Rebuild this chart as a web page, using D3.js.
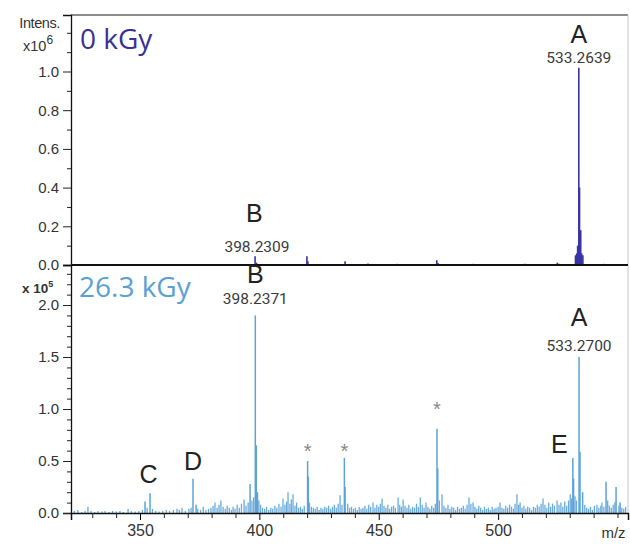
<!DOCTYPE html>
<html>
<head>
<meta charset="utf-8">
<script src="https://cdn.jsdelivr.net/npm/d3@7"></script>
<style>
  body { margin: 0; background: #fff; }
  svg { display: block; }
  .tick text { font-family: "Liberation Sans", Arial, sans-serif; fill: #333; }
</style>
</head>
<body>
<div id="chart"></div>
<script>
// ---- data ----
// top panel, 0 kGy: [m/z, intensity x10^6]
const topPeaks = [
  [328.2, 0.003], [398.2, 0.045], [398.8, 0.012], [419.9, 0.045], [420.3, 0.02],
  [435.9, 0.02], [445.5, 0.008], [457.8, 0.006], [474.3, 0.025], [474.8, 0.01],
  [489.6, 0.006], [511.2, 0.006], [524.8, 0.012], [525.5, 0.006],
  [532.4, 0.05], [532.9, 0.06], [533.3, 0.1], [533.8, 1.02], [534.1, 0.40],
  [534.6, 0.18], [535.0, 0.06], [535.5, 0.05], [544.2, 0.006], [549.8, 0.005]
];

// bottom panel, 26.3 kGy: [m/z, intensity x10^5]
const bottomMajor = [
  [352.1, 0.11], [354.2, 0.19], [372.2, 0.33], [373.5, 0.08],
  [396.1, 0.28], [398.3, 1.90], [398.7, 0.65], [399.2, 0.20],
  [420.2, 0.50], [420.5, 0.35], [435.6, 0.53], [435.9, 0.25],
  [474.4, 0.81], [474.7, 0.43], [531.3, 0.53], [531.6, 0.33],
  [533.9, 1.50], [534.3, 0.59], [535.4, 0.20], [545.2, 0.30],
  [549.4, 0.25], [551.1, 0.10]
];

const bottomNoise = [
  [322.5, .02], [324.0, .03], [325.6, .01], [327.0, .02], [328.2, .06], [329.5, .02],
  [331.0, .01], [332.4, .02], [334.0, .015], [335.3, .02], [337.0, .01], [338.5, .02],
  [340.1, .015], [341.6, .02], [343.0, .01], [345.0, .04], [346.4, .02], [348.0, .015],
  [349.5, .02], [351.0, .03], [353.0, .05], [355.2, .04], [356.6, .02], [358.0, .015],
  [359.5, .02], [361.0, .03], [362.4, .02], [364.0, .03], [365.5, .04], [366.5, .03],
  [367.6, .05], [369.0, .02], [370.5, .04], [371.4, .05], [374.2, .04], [375.4, .03],
  [376.5, .06], [377.6, .03], [378.7, .04], [379.7, .05], [380.6, .07], [381.4, .10],
  [382.3, .05], [383.1, .08], [383.9, .12], [384.8, .06], [385.7, .04], [386.5, .07],
  [387.4, .05], [388.3, .03], [389.0, .06], [389.8, .04], [390.7, .08], [391.6, .05],
  [392.5, .09], [393.6, .13], [394.4, .07], [395.3, .10], [396.9, .12], [397.6, .15],
  [399.8, .12], [400.5, .08], [401.3, .05], [402.2, .04], [403.0, .06], [403.9, .03],
  [404.8, .05], [405.6, .04], [406.5, .07], [407.3, .05], [408.2, .09], [409.1, .06],
  [409.9, .14], [410.7, .08], [411.4, .11], [412.0, .20], [412.8, .09], [413.4, .13],
  [414.1, .18], [414.9, .07], [415.6, .10], [416.4, .05], [417.2, .06], [418.0, .04],
  [418.8, .07], [421.0, .10], [421.8, .06], [422.6, .05], [423.4, .04], [424.2, .06],
  [425.0, .03], [425.8, .05], [426.6, .04], [427.4, .06], [428.2, .05], [429.0, .07],
  [429.8, .04], [430.6, .06], [431.4, .08], [432.2, .05], [433.0, .09], [433.8, .17],
  [434.6, .08], [437.0, .09], [437.8, .05], [438.6, .06], [439.4, .04], [440.2, .05],
  [441.0, .03], [441.8, .06], [442.6, .04], [443.4, .05], [444.2, .07], [445.0, .04],
  [445.8, .08], [446.6, .06], [447.6, .10], [448.4, .05], [449.2, .08], [450.0, .06],
  [450.7, .09], [451.4, .14], [452.2, .07], [453.0, .05], [453.8, .08], [454.6, .04],
  [455.4, .06], [456.2, .07], [457.0, .05], [458.1, .15], [458.8, .08], [459.5, .06],
  [460.2, .13], [461.0, .07], [461.8, .05], [462.6, .08], [463.4, .04], [464.2, .06],
  [465.0, .05], [465.8, .09], [466.6, .06], [467.4, .15], [468.2, .08], [469.0, .05],
  [469.8, .10], [470.6, .06], [471.4, .04], [472.2, .07], [473.0, .05], [473.7, .09],
  [475.4, .12], [476.5, .18], [477.3, .07], [478.1, .05], [479.0, .08], [479.8, .04],
  [480.6, .06], [481.4, .05], [482.2, .03], [483.0, .06], [483.8, .04], [484.6, .05],
  [485.4, .07], [486.2, .04], [487.0, .08], [487.8, .15], [488.6, .09], [489.5, .10],
  [490.3, .06], [491.1, .04], [491.9, .07], [492.7, .05], [493.5, .03], [494.3, .06],
  [495.1, .04], [495.9, .05], [496.7, .03], [497.5, .06], [498.3, .04], [499.1, .05],
  [500.0, .06], [500.8, .10], [501.6, .05], [502.4, .04], [503.2, .07], [504.0, .05],
  [504.8, .08], [505.6, .06], [506.4, .04], [507.1, .09], [507.9, .18], [508.6, .08],
  [509.2, .10], [510.0, .05], [510.8, .07], [511.6, .04], [512.4, .06], [513.2, .05],
  [514.0, .03], [514.8, .06], [515.6, .05], [516.4, .08], [517.2, .06], [518.0, .09],
  [518.8, .14], [519.6, .08], [520.4, .05], [521.2, .10], [522.0, .06], [522.8, .09],
  [523.6, .07], [524.7, .12], [525.5, .08], [526.3, .10], [527.1, .06], [527.9, .11],
  [528.7, .07], [529.5, .12], [530.2, .18], [530.8, .14], [532.2, .16], [532.8, .12],
  [536.3, .08], [537.1, .05], [537.9, .04], [538.7, .06], [539.5, .03], [540.3, .07],
  [541.4, .08], [542.2, .05], [543.0, .07], [543.5, .10], [544.3, .06], [545.9, .12],
  [546.6, .07], [547.4, .05], [548.2, .08], [548.9, .10], [550.6, .07], [551.8, .05],
  [552.6, .04], [553.4, .06]
];

const xTicks = [350, 400, 450, 500];
const yTicksTop = [0, 0.2, 0.4, 0.6, 0.8, 1.0];
const yTicksBottom = [0, 0.5, 1.0, 1.5, 2.0];

// ---- layout ----
const W = 630, H = 544;
const left = 71, right = 628;
const topTop = 15, topBase = 265, botBase = 513;

const svg = d3.select("#chart").append("svg").attr("width", W).attr("height", H);

const x = d3.scaleLinear().domain([321.1, 554.4]).range([left, right]);
const yTop = d3.scaleLinear().domain([0, 1.292]).range([topBase, topTop]);
const yBot = d3.scaleLinear().domain([0, 2.385]).range([botBase, topBase]);

// minor ticks
const minorTop = d3.range(1, 13).map((d) => d / 10).filter((d) => Math.round(d * 10) % 2 !== 0 || d > 1.05);
const minorBot = d3.range(1, 24).map((d) => d / 10).filter((d) => Math.round(d * 10) % 5 !== 0);
const minorX = d3.range(330, 555, 10).filter((d) => d % 50 !== 0);

// frame lines
svg.append("line").attr("x1", left).attr("x2", right).attr("y1", topTop).attr("y2", topTop)
  .attr("stroke", "#666").attr("stroke-width", 1.5);
svg.append("line").attr("x1", right).attr("x2", right).attr("y1", topTop).attr("y2", botBase)
  .attr("stroke", "#c8c8c8").attr("stroke-width", 1);

// spectra sticks
function sticks(data, y, color, w) {
  svg.append("g").selectAll("line").data(data).enter().append("line")
    .attr("x1", (d) => x(d[0])).attr("x2", (d) => x(d[0]))
    .attr("y1", y(0)).attr("y2", (d) => y(d[1]))
    .attr("stroke", color).attr("stroke-width", w);
}
sticks(bottomNoise, yBot, "#6aabdc", 1.3);
sticks(bottomMajor, yBot, "#5ba3d8", 1.5);
sticks(topPeaks, yTop, "#3a34a3", 1.6);

// y axes
function yAxis(scale, ticks, minor, fmt) {
  svg.append("g").attr("transform", `translate(${left},0)`)
    .call(d3.axisLeft(scale).tickValues(minor).tickSize(4).tickFormat(""))
    .call((g) => g.select(".domain").remove())
    .selectAll("line").attr("stroke", "#222");
  const g = svg.append("g").attr("transform", `translate(${left},0)`)
    .call(d3.axisLeft(scale).tickValues(ticks).tickSize(8).tickPadding(4).tickFormat(fmt));
  g.select(".domain").attr("stroke", "#111").attr("stroke-width", 1.3);
  g.selectAll(".tick line").attr("stroke", "#222");
  g.selectAll(".tick text").attr("font-size", "15px");
}
yAxis(yTop, yTicksTop, minorTop, d3.format(".1f"));
yAxis(yBot, yTicksBottom, minorBot, d3.format(".1f"));

// x axes
svg.append("line").attr("x1", left).attr("x2", right).attr("y1", topBase).attr("y2", topBase)
  .attr("stroke", "#111").attr("stroke-width", 2);

const xg = svg.append("g").attr("transform", `translate(0,${botBase})`)
  .call(d3.axisBottom(x).tickValues(xTicks).tickSize(7).tickPadding(5).tickFormat(d3.format("d")));
xg.select(".domain").attr("stroke", "#111").attr("stroke-width", 1.5);
xg.selectAll(".tick text").attr("font-size", "16px");
svg.append("g").attr("transform", `translate(0,${botBase})`)
  .call(d3.axisBottom(x).tickValues(minorX.concat([550])).tickSize(5).tickFormat(""))
  .call((g) => g.select(".domain").remove())
  .selectAll("line").attr("stroke", "#222");

svg.append("text").attr("x", x(550) - 4).attr("y", 538).attr("text-anchor", "middle")
  .attr("font-family", "Liberation Sans, Arial, sans-serif").attr("font-size", "15px")
  .attr("fill", "#333").text("m/z");

// axis unit labels
const sans = "Liberation Sans, Arial, sans-serif";
svg.append("text").attr("x", 60).attr("y", 28).attr("text-anchor", "end")
  .attr("font-family", sans).attr("font-size", "14.5px").attr("fill", "#333")
  .attr("letter-spacing", "-0.4px").text("Intens.");
const u1 = svg.append("text").attr("x", 23).attr("y", 51)
  .attr("font-family", sans).attr("font-size", "14.5px").attr("fill", "#333");
u1.append("tspan").text("x10");
u1.append("tspan").attr("dy", -7).attr("font-size", "12px").text("6");
const u2 = svg.append("text").attr("x", 22).attr("y", 293)
  .attr("font-family", sans).attr("font-size", "13.5px").attr("font-weight", "bold").attr("fill", "#333");
u2.append("tspan").text("x 10");
u2.append("tspan").attr("dy", -6).attr("font-size", "9px").text("5");

// panel titles
const ttl = "Open Sans, Noto Sans, sans-serif";
svg.append("text").attr("x", 80).attr("y", 49).attr("font-family", ttl).attr("font-size", "28px")
  .attr("fill", "#3b3192").text("0 kGy");
svg.append("text").attr("x", 79).attr("y", 297).attr("font-family", ttl).attr("font-size", "28px")
  .attr("fill", "#5ba0d3").text("26.3 kGy");

// peak annotations
const num = "Roboto, Open Sans, sans-serif";
function letter(txt, mz, yy) {
  svg.append("text").attr("x", x(mz)).attr("y", yy).attr("text-anchor", "middle")
    .attr("font-family", sans).attr("font-size", "25px").attr("fill", "#222").text(txt);
}
function mass(txt, mz, yy) {
  svg.append("text").attr("x", x(mz)).attr("y", yy).attr("text-anchor", "middle")
    .attr("font-family", num).attr("font-size", "15.5px").attr("fill", "#3a3a3a").text(txt);
}
function star(mz, yy) {
  svg.append("text").attr("x", x(mz)).attr("y", yy).attr("text-anchor", "middle")
    .attr("font-family", sans).attr("font-size", "20px").attr("fill", "#888").text("*");
}

letter("A", 533.8, yTop(1.02) - 25);
mass("533.2639", 533.8, yTop(1.02) - 5);
letter("B", 397.9, yTop(0.045) - 34);
mass("398.2309", 399.0, yTop(0.045) - 4);

letter("B", 398.3, 283);
mass("398.2371", 398.3, 303.5);
letter("A", 533.9, yBot(1.5) - 31);
mass("533.2700", 533.9, yBot(1.5) - 6);
letter("C", 353.6, 483);
letter("D", 372.2, 470);
letter("E", 525.6, 453);
star(420.2, 458);
star(435.6, 458);
star(474.4, 416);
</script>
</body>
</html>
